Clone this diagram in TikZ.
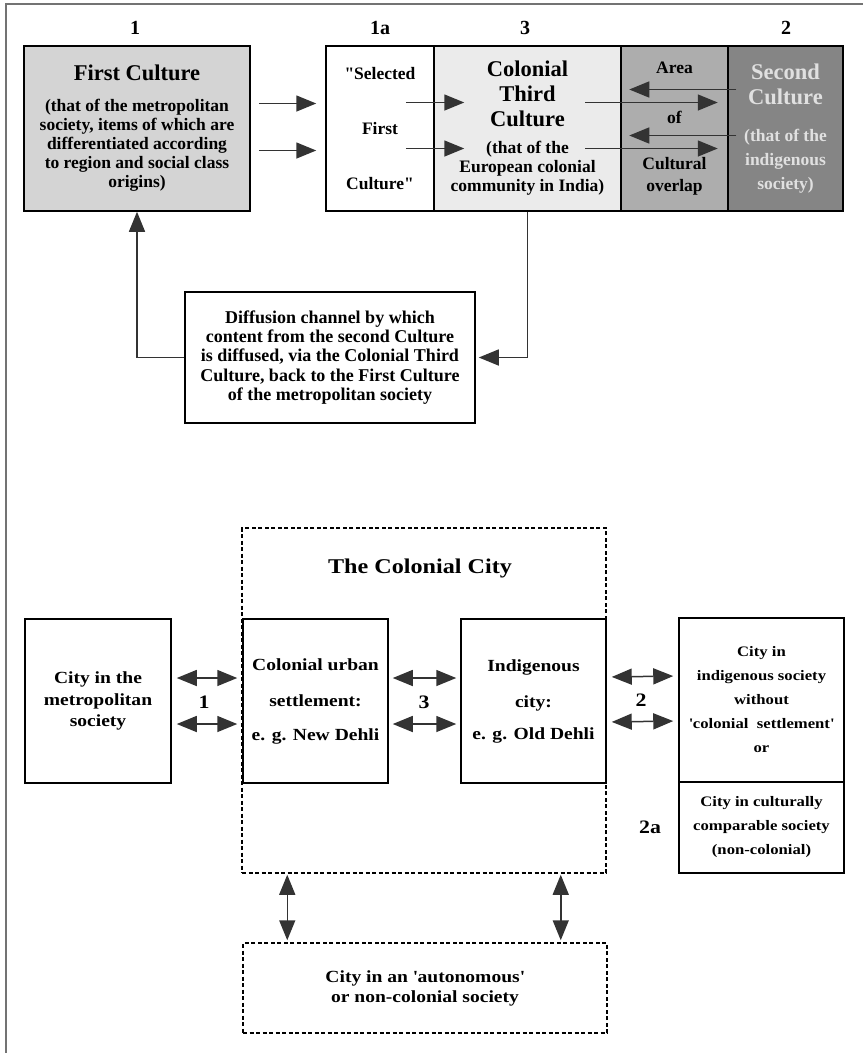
\documentclass[tikz,border=0pt]{standalone}
\usepackage{fontspec}
\setmainfont{Liberation Serif}
\newfontfamily\wideserif{Liberation Serif}[FakeStretch=1.15]
\usepackage{tikz}
\usetikzlibrary{arrows.meta}

\newcommand{\hdsize}{\fontsize{22.5}{25}\selectfont}

\begin{document}
\begin{tikzpicture}[x=1pt, y=-1pt,
    box/.style={draw, line width=1.5pt, minimum height=165pt, inner sep=0pt, align=center, font=\bfseries\fontsize{17.5}{19}\selectfont},
    cbox/.style={draw, line width=1.5pt, fill=white, inner sep=0pt, align=center, font=\wideserif\bfseries\fontsize{17}{21.5}\selectfont},
    dbox/.style={draw, dash pattern=on 4pt off 2.5pt, line width=1.5pt, inner sep=0pt, align=center, font=\wideserif\bfseries\fontsize{17}{20}\selectfont},
    num/.style={font=\bfseries\fontsize{20}{22}\selectfont},
    cnum/.style={font=\wideserif\bfseries\fontsize{19}{21}\selectfont},
    tip/.tip={Triangle[length=20pt,width=16pt]},
    arr/.style={-tip, line width=1.5pt, draw=black!80},
    dbl/.style={tip-tip, line width=1.5pt, draw=black!80}]
        \useasboundingbox (0,0) rectangle (863,1053);
        % Frame
        \draw[line width=2pt, black!55] (6,1053) -- (6,4) -- (863,4);

        % Nodes (top)
        \node[box, fill=black!17, minimum width=226pt] (box1) at (137, 128.5)
            {{\hdsize First Culture}\\[12pt] (that of the metropolitan\\ society, items of which are\\ differentiated according\\ to region and social class\\ origins)};
        \node[box, minimum width=108pt] (box1a) at (380, 128.5)
            {\textquotedbl Selected\\[36pt] First\\[36pt] Culture\textquotedbl};
        \node[box, fill=black!8, minimum width=187pt] (box3) at (527.5, 128.5)
            {{\hdsize Colonial}\\[6pt] {\hdsize Third}\\[6pt] {\hdsize Culture}\\[8pt] (that of the\\ European colonial\\ community in India)};
        \node[box, fill=black!32, minimum width=107pt] (ovl) at (674.5, 128.5)
            {Area\\[31pt] of\\[27pt] Cultural\\[3pt] overlap};
        \node[box, fill=black!48, text=white!88!black, minimum width=115pt] (box2) at (785.5, 128.5)
            {{\hdsize Second}\\[6pt] {\hdsize Culture}\\[18pt] (that of the\\[5pt] indigenous\\[5pt] society)};
        \node[box, font=\bfseries\fontsize{18}{19.3}\selectfont, minimum width=290pt, minimum height=131pt] (diff) at (330, 357.5)
            {Diffusion channel by which\\ content from the second Culture\\ is diffused, via the Colonial Third\\ Culture, back to the First Culture\\ of the metropolitan society};

        % Edges (top)
        \draw[arr] ([shift={(8,-25)}]box1.east) -- ([shift={(-9,-25)}]box1a.west);
        \draw[arr] ([shift={(8,22)}]box1.east) -- ([shift={(-9,22)}]box1a.west);
        \draw[arr] ([shift={(-29,-26)}]box1a.east) -- ([shift={(31,-26)}]box3.west);
        \draw[arr] ([shift={(-29,20)}]box1a.east) -- ([shift={(31,20)}]box3.west);
        \draw[arr] ([shift={(-35,-26)}]ovl.west) -- ([shift={(-11,-26)}]ovl.east);
        \draw[arr] ([shift={(-35,20)}]ovl.west) -- ([shift={(-11,20)}]ovl.east);
        \draw[arr] ([shift={(9,-39)}]box2.west) -- ([shift={(9,-39)}]ovl.west);
        \draw[arr] ([shift={(9,7)}]box2.west) -- ([shift={(9,7)}]ovl.west);
        \draw[arr, shorten >=3pt] (box3.south) |- (diff.east);
        \draw[arr] (diff.west) -| (box1.south);

        % Labels (top)
        \node[num] (lab1) at (135, 28) {1};
        \node[num] (lab1a) at (380, 28) {1a};
        \node[num] (lab3) at (525, 28) {3};
        \node[num] (lab2) at (786, 28) {2};

        % Nodes (bottom)
        \node[dbox, minimum width=364pt, minimum height=345pt] (ccity) at (424, 700.5) {};
        \node[font=\wideserif\bfseries\fontsize{21}{24}\selectfont] (cctitle) at (420, 568) {The Colonial City};
        \node[cbox, minimum width=146pt, minimum height=164pt] (metro) at (98, 701)
            {City in the\\ metropolitan\\ society};
        \node[cbox, minimum width=145pt, minimum height=164pt] (colo) at (315.5, 701)
            {Colonial urban\\[14.5pt] settlement:\\[12.5pt] e. g. New Dehli};
        \node[cbox, minimum width=145pt, minimum height=164pt] (indi) at (533.5, 701)
            {Indigenous\\[14.5pt] city:\\[10.5pt] e. g. Old Dehli};
        \node[cbox, font=\wideserif\bfseries\fontsize{14.5}{21.5}\selectfont, minimum width=165pt, minimum height=164pt] (rtop) at (761.5, 700)
            {City in\\[2.5pt] indigenous society\\[2.5pt] without\\[2.5pt] \textquotesingle colonial\ \ settlement\textquotesingle\\[2.5pt] or};
        \node[cbox, font=\wideserif\bfseries\fontsize{14.5}{21.5}\selectfont, minimum width=165pt, minimum height=91pt] (rbot) at (761.5, 827.5)
            {City in culturally\\[2.5pt] comparable society\\[2.5pt] (non-colonial)};
        \node[dbox, minimum width=364pt, minimum height=90pt] (auto) at (425, 988)
            {City in an \textquotesingle autonomous\textquotesingle\\ or non-colonial society};

        % Edges (bottom)
        \draw[dbl, shorten <=5pt, shorten >=5pt] ([shift={(0,-23)}]metro.east) -- ([shift={(0,-23)}]colo.west);
        \draw[dbl, shorten <=5pt, shorten >=5pt] ([shift={(0,23)}]metro.east) -- ([shift={(0,23)}]colo.west);
        \draw[dbl, shorten <=4pt, shorten >=4pt] ([shift={(0,-23)}]colo.east) -- ([shift={(0,-23)}]indi.west);
        \draw[dbl, shorten <=4pt, shorten >=4pt] ([shift={(0,23)}]colo.east) -- ([shift={(0,23)}]indi.west);
        \draw[dbl, shorten <=5pt, shorten >=5pt] ([shift={(0,-24)}]indi.east) -- ([shift={(0,-24)}]rtop.west);
        \draw[dbl, shorten <=5pt, shorten >=5pt] ([shift={(0,21)}]indi.east) -- ([shift={(0,21)}]rtop.west);
        \draw[dbl, shorten <=1pt, shorten >=2pt] ([shift={(46,0)}]ccity.south west) -- ([shift={(45,0)}]auto.north west);
        \draw[dbl, shorten <=1pt, shorten >=2pt] ([shift={(-46,0)}]ccity.south east) -- ([shift={(-47,0)}]auto.north east);

        % Labels (bottom)
        \node[cnum] (n1) at (204, 702) {1};
        \node[cnum] (n3) at (424, 702) {3};
        \node[cnum] (n2) at (641, 700) {2};
        \node[cnum] (n2a) at (650, 827) {2a};
\end{tikzpicture}
\end{document}
